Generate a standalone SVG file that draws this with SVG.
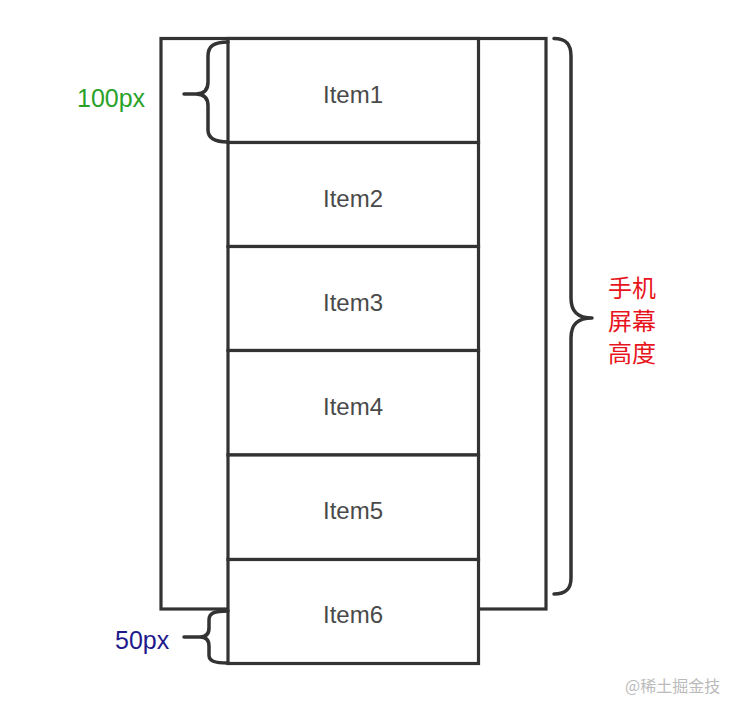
<svg xmlns="http://www.w3.org/2000/svg" width="732" height="702" viewBox="0 0 732 702">
<style>
.box{fill:none;stroke:#333;stroke-width:3.2}
.item{fill:#fff;stroke:#333;stroke-width:3.2}
.brace{fill:none;stroke:#333;stroke-width:3.5;stroke-linecap:round;stroke-linejoin:round}
.it{font-family:"Liberation Sans",Arial,sans-serif;font-size:24px;fill:#4a4a4a;text-anchor:middle;dominant-baseline:central}
.lab{font-family:"Liberation Sans",Arial,sans-serif;font-size:25px;dominant-baseline:central}
.cjk{font-family:"Noto Sans CJK SC","Liberation Sans",sans-serif;font-size:24px;fill:#e8141c;text-anchor:start}
</style>
<rect width="732" height="702" fill="#fff"/>
<g id="screen"><rect class="box" x="161" y="38.5" width="385" height="570.5"/></g>
<g id="item1"><rect class="item" x="228" y="38.5" width="250.5" height="104"/><text class="it" x="353" y="94">Item1</text></g>
<g id="item2"><rect class="item" x="228" y="142.5" width="250.5" height="104"/><text class="it" x="353" y="198">Item2</text></g>
<g id="item3"><rect class="item" x="228" y="246.5" width="250.5" height="104"/><text class="it" x="353" y="302">Item3</text></g>
<g id="item4"><rect class="item" x="228" y="350.5" width="250.5" height="104.5"/><text class="it" x="353" y="406">Item4</text></g>
<g id="item5"><rect class="item" x="228" y="455" width="250.5" height="104.5"/><text class="it" x="353" y="510">Item5</text></g>
<g id="item6"><rect class="item" x="228" y="559.5" width="250.5" height="104"/><text class="it" x="353" y="614">Item6</text></g>
<g id="connectors">
<path class="brace" d="M228,42 C214,42 208,46 208,56 L208,82 C208,90 204,94 196,94 L184,94 M196,94 C204,94 208,98 208,106 L208,130 C208,138 214,142 228,142"/>
<path class="brace" d="M228,611 C214,611 209,613 209,620 L209,628 C209,634 206,637 200,637 L184,637 M200,637 C206,637 209,640 209,646 L209,655 C209,661 214,663 228,663"/>
<path class="brace" d="M554,38.5 C566,38.5 571,44 571,56 L571,298 C571,312 578,318 592,318 M592,318 C578,318 571,324 571,338 L571,578 C571,589 566,594 554,594"/>
</g>
<g id="label100"><text class="lab" x="77" y="98" fill="#2aa22a">100px</text></g>
<g id="label50"><text class="lab" x="115" y="640" fill="#1f1a8c">50px</text></g>
<g id="labelScreen">
<text class="cjk" x="608" y="297">手机</text>
<text class="cjk" x="608" y="330">屏幕</text>
<text class="cjk" x="608" y="362">高度</text>
</g>
<text x="625" y="692" font-family="Noto Sans CJK SC,Liberation Sans,sans-serif" font-size="16" fill="#bbb">@稀土掘金技</text>
</svg>
